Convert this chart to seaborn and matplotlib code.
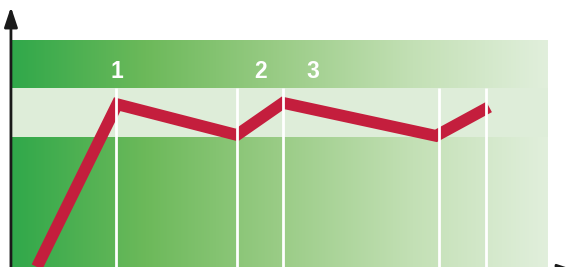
# Recreate: green gradient panel with a red trend line and numbered markers

import numpy as np
import pandas as pd
import matplotlib
matplotlib.use('Agg')
import matplotlib.pyplot as plt
from matplotlib.colors import LinearSegmentedColormap
import seaborn as sns

sns.set_style("white")
plt.rcParams['font.family'] = ['Liberation Sans', 'DejaVu Sans']

# data (panel spans 0..100 on both axes)
trend_x = [4.75, 19.7, 42.0, 50.6, 79.1, 89.0]
trend_y = [0.0, 72.0, 58.4, 72.6, 58.0, 70.8]
marker_x = [19.5, 42.0, 50.6, 79.7, 88.4]
label_text = ["1", "2", "3"]
label_x = [19.7, 46.5, 56.2]
label_y = 86.6
band_low, band_high = 57.5, 79.2

df = pd.DataFrame({'x': trend_x, 'y': trend_y})

fig = plt.figure(figsize=(5.83, 2.67), dpi=100)
ax = fig.add_axes([0, 0, 1, 1])

# background gradient
cmap = LinearSegmentedColormap.from_list(
    'greens', ['#30a84a', '#6cb95a', '#9acc86', '#c3e0b5', '#e1efdc'])
grad = np.linspace(0, 1, 256).reshape(1, -1)
ax.imshow(grad, extent=[0, 100, 0, 100], cmap=cmap, aspect='auto', zorder=0)

# light band
ax.fill_between([0, 100], band_low, band_high, color='#deedd9', lw=0, zorder=1)

# red trend line
sns.lineplot(data=df, x='x', y='y', ax=ax, color='#c41e3d', lw=8.5,
             sort=False, solid_joinstyle='miter', solid_capstyle='butt', zorder=2)

# white marker lines
ax.vlines(marker_x, 0, band_high, color='white', lw=2, zorder=3)

for t, lx in zip(label_text, label_x):
    ax.text(lx, label_y, t, color='white', fontsize=16.5, fontweight='bold',
            ha='center', va='center', zorder=4)

# axis arrows
arrow = dict(arrowstyle='-|>,head_length=0.6,head_width=0.2', lw=2,
             color='#1a1a1a', mutation_scale=20, shrinkA=0, shrinkB=0)
ax.annotate('', xy=(-0.1, 115), xytext=(-0.1, -5), arrowprops=arrow,
            annotation_clip=False)
ax.annotate('', xy=(105.4, -1.7), xytext=(-0.1, -1.7), arrowprops=arrow,
            annotation_clip=False)

ax.set_xlim(-2.14, 106.5)
ax.set_ylim(0, 118.1)
ax.axis('off')

fig.savefig('out.png', dpi=100)
